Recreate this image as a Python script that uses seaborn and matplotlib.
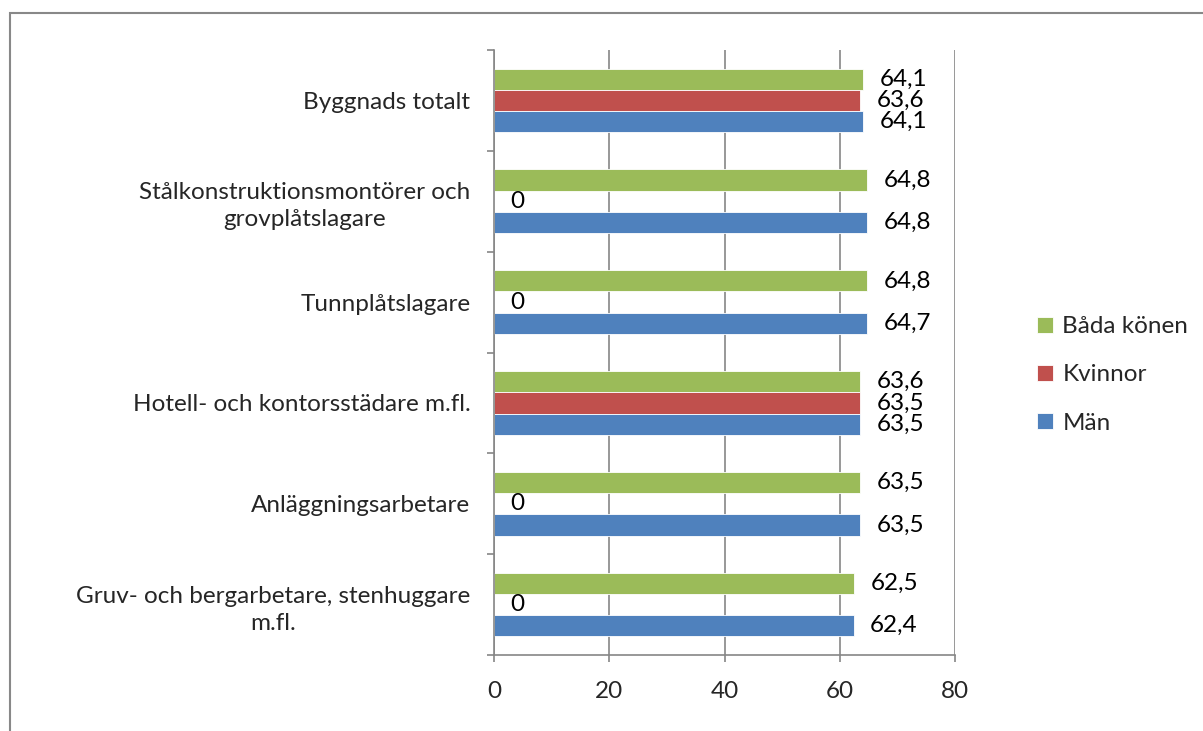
import matplotlib
matplotlib.use("Agg")
import matplotlib.pyplot as plt
import seaborn as sns
import pandas as pd
from matplotlib.patches import Rectangle

categories = [
    "Byggnads totalt",
    "Stålkonstruktionsmontörer och\ngrovplåtslagare",
    "Tunnplåtslagare",
    "Hotell- och kontorsstädare m.fl.",
    "Anläggningsarbetare",
    "Gruv- och bergarbetare, stenhuggare\nm.fl.",
]
series = ["Båda könen", "Kvinnor", "Män"]
bada = [64.1, 64.8, 64.8, 63.6, 63.5, 62.5]
kvinnor = [63.6, 0, 0, 63.5, 0, 0]
man = [64.1, 64.8, 64.7, 63.5, 63.5, 62.4]
x_ticks = [0, 20, 40, 60, 80]

colors = {"Båda könen": "#9BBB59", "Kvinnor": "#C0504D", "Män": "#4F81BD"}

df = pd.DataFrame({
    "Yrke": categories * 3,
    "Kön": [series[0]] * 6 + [series[1]] * 6 + [series[2]] * 6,
    "Värde": bada + kvinnor + man,
})

sns.set_style("white")
plt.rcParams["font.family"] = ["Lato", "DejaVu Sans"]
fs = 17.5

fig = plt.figure(figsize=(12.03, 7.31), dpi=100)
ax = fig.add_axes([494 / 1203, 1 - 655 / 731, (955 - 494) / 1203, (655 - 50) / 731])

sns.barplot(data=df, y="Yrke", x="Värde", hue="Kön", hue_order=series,
            order=categories, palette=colors, saturation=1, orient="h", width=0.63,
            edgecolor="white", linewidth=0.6, errorbar=None, ax=ax)

for cont in ax.containers:
    labels = [f"{v:.1f}".replace(".", ",") if v != 0 else "0" for v in cont.datavalues]
    ax.bar_label(cont, labels=labels, padding=12, fontsize=fs, color="black")

ax.set_xlim(0, 80)
ax.set_ylim(5.5, -0.5)
ax.set_xticks(x_ticks)
ax.xaxis.grid(True, color="#868686", linewidth=1.2)
ax.yaxis.grid(False)
ax.set_axisbelow(True)
ax.set_xlabel("")
ax.set_ylabel("")

for s in ["top", "right"]:
    ax.spines[s].set_visible(False)
for s in ["left", "bottom"]:
    ax.spines[s].set_color("#868686")
    ax.spines[s].set_linewidth(1.2)

ax.set_yticks([i - 0.5 for i in range(7)], minor=True)
ax.tick_params(axis="y", which="major", length=0, pad=17, labelsize=fs)
ax.tick_params(axis="y", which="minor", length=5, width=1.2, color="#868686", left=True)
ax.tick_params(axis="x", which="major", length=5, width=1.2, color="#868686",
               bottom=True, pad=14, labelsize=fs)
for lab in ax.get_yticklabels():
    lab.set_multialignment("center")
    lab.set_linespacing(1.35)

ax.legend(loc="center left", bbox_to_anchor=(1.13, 0.463), frameon=False,
          fontsize=fs, handlelength=0.65, handleheight=0.65, labelspacing=1.12,
          handletextpad=0.4)

fig.patches.append(Rectangle((10 / 1203, -0.2), 1.2, 1.2 - 13 / 731,
                             transform=fig.transFigure, fill=False,
                             edgecolor="#888888", linewidth=1.5))

fig.savefig("out.png", dpi=100)
